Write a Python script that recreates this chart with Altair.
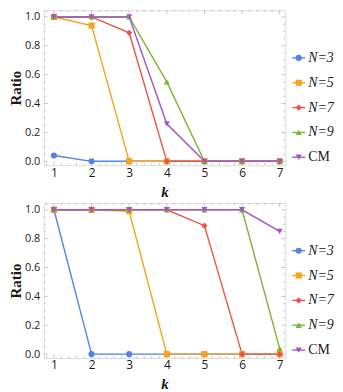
import altair as alt
import pandas as pd

k_values = [1, 2, 3, 4, 5, 6, 7]
series_names = ["N=3", "N=5", "N=7", "N=9", "CM"]
series_colors = ["#5283e8", "#f8a21e", "#eb5444", "#7cb434", "#a357c4"]
series_shapes = ["circle", "square", "diamond", "triangle-up", "triangle-down"]

top_values = {
    "N=3": [0.04, 0.0, 0.0, 0.0, 0.0, 0.0, 0.0],
    "N=5": [1.0, 0.94, 0.0, 0.0, 0.0, 0.0, 0.0],
    "N=7": [1.0, 1.0, 0.89, 0.0, 0.0, 0.0, 0.0],
    "N=9": [1.0, 1.0, 1.0, 0.55, 0.0, 0.0, 0.0],
    "CM": [1.0, 1.0, 1.0, 0.26, 0.0, 0.0, 0.0],
}
bottom_values = {
    "N=3": [1.0, 0.0, 0.0, 0.0, 0.0, 0.0, 0.0],
    "N=5": [1.0, 1.0, 0.99, 0.0, 0.0, 0.0, 0.0],
    "N=7": [1.0, 1.0, 1.0, 1.0, 0.89, 0.0, 0.0],
    "N=9": [1.0, 1.0, 1.0, 1.0, 1.0, 1.0, 0.04],
    "CM": [1.0, 1.0, 1.0, 1.0, 1.0, 1.0, 0.85],
}

x_major = [1, 2, 3, 4, 5, 6, 7]
x_minor = [0.8, 1.2, 1.4, 1.6, 1.8, 2.2, 2.4, 2.6, 2.8, 3.2, 3.4, 3.6, 3.8,
           4.2, 4.4, 4.6, 4.8, 5.2, 5.4, 5.6, 5.8, 6.2, 6.4, 6.6, 6.8, 7.0]
y_major = [0.0, 0.2, 0.4, 0.6, 0.8, 1.0]
y_minor = [0.05, 0.1, 0.15, 0.25, 0.3, 0.35, 0.45, 0.5, 0.55, 0.65, 0.7, 0.75,
           0.85, 0.9, 0.95]

W, H = 243, 156
FRAME = "#c4c4c4"
TXT = "#1a1a1a"

xs = alt.Scale(domain=[0.73, 7.15], nice=False, zero=False)
ys = alt.Scale(domain=[-0.027, 1.047], nice=False, zero=False)
cs = alt.Scale(domain=series_names, range=series_colors)
ss = alt.Scale(domain=series_names, range=series_shapes)

xaxis = alt.Axis(values=x_major, format="d", title="k", tickSize=0, domain=False, grid=False,
                 labelFont="Open Sans", labelFontSize=12, labelColor=TXT, labelPadding=2,
                 titleFont="Liberation Serif", titleFontSize=15, titleFontWeight="bold",
                 titleFontStyle="italic", titleColor=TXT, titlePadding=6)
yaxis = alt.Axis(values=y_major, format=".1f", title="Ratio", tickSize=0, domain=False, grid=False,
                 labelFont="Open Sans", labelFontSize=11, labelColor=TXT, labelPadding=4,
                 titleFont="Liberation Serif", titleFontSize=15, titleFontWeight="bold",
                 titleColor=TXT, titlePadding=1)


def make_df(values):
    rows = []
    for s in series_names:
        for k, v in zip(k_values, values[s]):
            rows.append({"series": s, "k": k, "ratio": v})
    return pd.DataFrame(rows)


def tick_layers():
    layers = []
    for vals, ln in ((x_major, 4), (x_minor, 2)):
        d = pd.DataFrame({"k": vals})
        b = alt.Chart(d).mark_rule(color=FRAME, strokeWidth=1)
        layers.append(b.encode(x=alt.X("k:Q", scale=xs, axis=xaxis), y=alt.value(H), y2=alt.value(H - ln)))
        layers.append(b.encode(x=alt.X("k:Q", scale=xs, axis=xaxis), y=alt.value(0), y2=alt.value(ln)))
    for vals, ln in ((y_major, 4), (y_minor, 2)):
        d = pd.DataFrame({"ratio": vals})
        b = alt.Chart(d).mark_rule(color=FRAME, strokeWidth=1)
        layers.append(b.encode(y=alt.Y("ratio:Q", scale=ys, axis=yaxis), x=alt.value(0), x2=alt.value(ln)))
        layers.append(b.encode(y=alt.Y("ratio:Q", scale=ys, axis=yaxis), x=alt.value(W), x2=alt.value(W - ln)))
    return layers


def panel(values):
    d = make_df(values)
    base = alt.Chart(d).encode(
        x=alt.X("k:Q", scale=xs, axis=xaxis),
        y=alt.Y("ratio:Q", scale=ys, axis=yaxis),
        color=alt.Color("series:N", scale=cs, legend=None),
    )
    lines = base.mark_line(strokeWidth=1.4).encode(order=alt.Order("k:Q"))
    pts = base.mark_point(filled=True, size=38, opacity=1).encode(
        shape=alt.Shape("series:N", scale=ss, legend=None))
    return alt.layer(*tick_layers(), lines, pts).properties(width=W, height=H)


def legend():
    d = pd.DataFrame({"series": series_names})
    yenc = alt.Y("series:N", scale=alt.Scale(type="point", domain=series_names, range=[48, 148], padding=0),
                 axis=None)
    col = alt.Color("series:N", scale=cs, legend=None)
    b = alt.Chart(d)
    rule = b.mark_rule(strokeWidth=1.4).encode(y=yenc, x=alt.value(5), x2=alt.value(18), color=col)
    pt = b.mark_point(filled=True, size=38, opacity=1).encode(
        y=yenc, x=alt.value(11.5), color=col, shape=alt.Shape("series:N", scale=ss, legend=None))
    t_it = b.mark_text(align="left", baseline="middle", font="Liberation Serif", fontSize=14,
                       fontStyle="italic", color=TXT).encode(
        y=yenc, x=alt.value(21), text="series:N").transform_filter(alt.datum.series != "CM")
    t_rm = b.mark_text(align="left", baseline="middle", font="Liberation Serif", fontSize=14,
                       color=TXT).encode(
        y=yenc, x=alt.value(21), text="series:N").transform_filter(alt.datum.series == "CM")
    return alt.layer(rule, pt, t_it, t_rm).properties(
        width=47, height=H, view=alt.ViewBackground(stroke="transparent"))


row1 = alt.hconcat(panel(top_values), legend(), spacing=0)
row2 = alt.hconcat(panel(bottom_values), legend(), spacing=0)

chart = alt.vconcat(row1, row2, spacing=2).properties(
    padding={"left": 0, "top": 0, "right": 0, "bottom": 0}
).configure_view(stroke=FRAME, strokeWidth=1).configure(background="white")

chart.save("out.html", embed_options={"renderer": "svg", "actions": False})
